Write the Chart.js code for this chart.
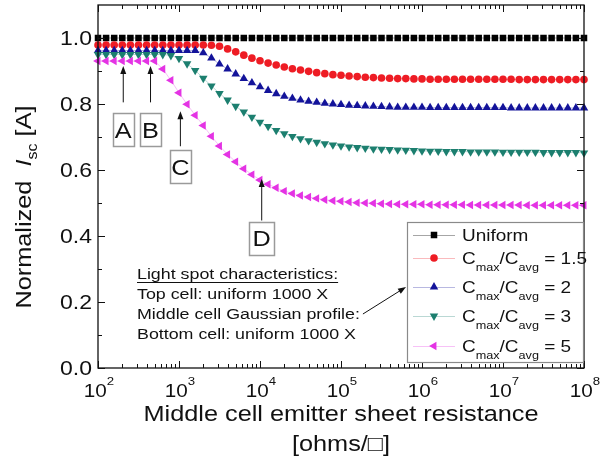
<!DOCTYPE html>
<html>
<head>
<meta charset="utf-8">
<script src="https://cdn.jsdelivr.net/npm/chart.js@4.4.1/dist/chart.umd.min.js"></script>
<style>
  html, body { margin: 0; padding: 0; background: #fff; }
</style>
</head>
<body>
<canvas id="isc" width="601" height="466"></canvas>
<script>
// middle cell emitter sheet resistance [ohms/sq], 10 points per decade
const sheetRes = [
  100, 125.9, 158.5, 199.5, 251.2, 316.2, 398.1, 501.2, 631.0, 794.3,
  1000, 1259, 1585, 1995, 2512, 3162, 3981, 5012, 6310, 7943,
  1e4, 1.259e4, 1.585e4, 1.995e4, 2.512e4, 3.162e4, 3.981e4, 5.012e4, 6.310e4, 7.943e4,
  1e5, 1.259e5, 1.585e5, 1.995e5, 2.512e5, 3.162e5, 3.981e5, 5.012e5, 6.310e5, 7.943e5,
  1e6, 1.259e6, 1.585e6, 1.995e6, 2.512e6, 3.162e6, 3.981e6, 5.012e6, 6.310e6, 7.943e6,
  1e7, 1.259e7, 1.585e7, 1.995e7, 2.512e7, 3.162e7, 3.981e7, 5.012e7, 6.310e7, 7.943e7,
  1e8
];

const uniform = [
  1, 1, 1, 1, 1, 1, 1, 1, 1, 1,
  1, 1, 1, 1, 1, 1, 1, 1, 1, 1,
  1, 1, 1, 1, 1, 1, 1, 1, 1, 1,
  1, 1, 1, 1, 1, 1, 1, 1, 1, 1,
  1, 1, 1, 1, 1, 1, 1, 1, 1, 1,
  1, 1, 1, 1, 1, 1, 1, 1, 1, 1,
  1
];
const ratio15 = [
  0.979, 0.979, 0.979, 0.979, 0.979, 0.979, 0.979, 0.979, 0.979, 0.979,
  0.979, 0.979, 0.979, 0.979, 0.978, 0.975, 0.967, 0.958, 0.948, 0.939,
  0.931, 0.924, 0.918, 0.912, 0.907, 0.903, 0.899, 0.895, 0.892, 0.889,
  0.887, 0.885, 0.883, 0.881, 0.880, 0.879, 0.878, 0.877, 0.877, 0.876,
  0.876, 0.875, 0.875, 0.875, 0.875, 0.875, 0.875, 0.875, 0.875, 0.875,
  0.875, 0.875, 0.874, 0.874, 0.874, 0.874, 0.874, 0.874, 0.874, 0.874,
  0.874
];
const ratio2 = [
  0.962, 0.962, 0.962, 0.962, 0.962, 0.962, 0.962, 0.962, 0.962, 0.962,
  0.962, 0.962, 0.962, 0.955, 0.939, 0.921, 0.906, 0.891, 0.877, 0.864,
  0.852, 0.841, 0.831, 0.823, 0.817, 0.812, 0.808, 0.805, 0.802, 0.800,
  0.798, 0.796, 0.795, 0.794, 0.793, 0.792, 0.791, 0.790, 0.790, 0.790,
  0.790, 0.789, 0.789, 0.789, 0.789, 0.789, 0.789, 0.789, 0.789, 0.789,
  0.789, 0.788, 0.788, 0.788, 0.788, 0.788, 0.788, 0.788, 0.788, 0.788,
  0.788
];
const ratio3 = [
  0.950, 0.950, 0.950, 0.950, 0.950, 0.950, 0.950, 0.950, 0.950, 0.947,
  0.938, 0.922, 0.902, 0.878, 0.855, 0.832, 0.812, 0.793, 0.776, 0.760,
  0.745, 0.732, 0.720, 0.710, 0.702, 0.695, 0.689, 0.684, 0.680, 0.676,
  0.673, 0.670, 0.668, 0.666, 0.664, 0.663, 0.662, 0.661, 0.660, 0.659,
  0.658, 0.657, 0.657, 0.656, 0.656, 0.656, 0.655, 0.655, 0.655, 0.655,
  0.654, 0.654, 0.654, 0.654, 0.654, 0.653, 0.653, 0.653, 0.653, 0.653,
  0.652
];
const ratio5 = [
  0.930, 0.930, 0.930, 0.930, 0.930, 0.930, 0.930, 0.930, 0.906, 0.872,
  0.834, 0.799, 0.766, 0.735, 0.702, 0.673, 0.647, 0.625, 0.604, 0.586,
  0.570, 0.557, 0.546, 0.536, 0.529, 0.523, 0.518, 0.514, 0.510, 0.507,
  0.505, 0.503, 0.501, 0.500, 0.499, 0.498, 0.497, 0.496, 0.496, 0.496,
  0.496, 0.495, 0.495, 0.495, 0.495, 0.495, 0.494, 0.494, 0.494, 0.494,
  0.494, 0.494, 0.494, 0.493, 0.493, 0.493, 0.493, 0.493, 0.493, 0.493,
  0.493
];

const ratioLabels = ['1.5', '2', '3', '5'];
const yTicks = [0, 0.2, 0.4, 0.6, 0.8, 1.0];
const yMinor = [0.1, 0.3, 0.5, 0.7, 0.9];
const xTickExp = [2, 3, 4, 5, 6, 7, 8];

// letters with arrows: resistance they point at, value at arrow tip
const callouts = [
  { label: 'A', x: 205, tip: 0.915, tail: 0.805, boxTop: 0.772 },
  { label: 'B', x: 445, tip: 0.915, tail: 0.805, boxTop: 0.772 },
  { label: 'C', x: 1040, tip: 0.778, tail: 0.672, boxTop: 0.660 },
  { label: 'D', x: 10500, tip: 0.573, tail: 0.447, boxTop: 0.443 }
];

const FONT = '"Liberation Sans", Arial, sans-serif';
const SX = 1.15; // source figure is a bit wide

const styles = [
  { name: 'Uniform', color: '#000000', line: 'rgba(0,0,0,0.35)', shape: 'rect', r: 4.6, rot: 0 },
  { color: '#ee1c24', line: 'rgba(238,28,36,0.3)', shape: 'circle', r: 3.8, rot: 0 },
  { color: '#13139a', line: 'rgba(19,19,154,0.3)', shape: 'triangle', r: 4.9, rot: 0 },
  { color: '#1c7f6f', line: 'rgba(28,127,111,0.3)', shape: 'triangle', r: 4.9, rot: 180 },
  { color: '#e433e4', line: 'rgba(228,51,228,0.3)', shape: 'triangle', r: 4.9, rot: 270 }
];
const seriesData = [uniform, ratio15, ratio2, ratio3, ratio5];

function runWidth(ctx, parts) {
  let w = 0;
  parts.forEach(p => {
    ctx.font = (p.italic ? 'italic ' : '') + p.size + 'px ' + FONT;
    w += ctx.measureText(p.t).width;
  });
  return w * SX;
}

function drawRun(ctx, parts, x, y, align) {
  const w = runWidth(ctx, parts);
  const x0 = align === 'center' ? x - w / 2 : align === 'right' ? x - w : x;
  ctx.save();
  ctx.translate(x0, y);
  ctx.scale(SX, 1);
  ctx.textBaseline = 'alphabetic';
  ctx.textAlign = 'left';
  ctx.fillStyle = '#111';
  let px = 0;
  parts.forEach(p => {
    ctx.font = (p.italic ? 'italic ' : '') + p.size + 'px ' + FONT;
    ctx.fillText(p.t, px, p.dy || 0);
    px += ctx.measureText(p.t).width;
  });
  ctx.restore();
  return w;
}

function marker(ctx, st, x, y) {
  ctx.save();
  ctx.fillStyle = st.color;
  ctx.beginPath();
  if (st.shape === 'rect') {
    const s = st.r * Math.SQRT1_2;
    ctx.rect(x - s, y - s, 2 * s, 2 * s);
  } else if (st.shape === 'circle') {
    ctx.arc(x, y, st.r, 0, Math.PI * 2);
  } else {
    let rad = st.rot * Math.PI / 180;
    for (let i = 0; i < 3; i++) {
      const px = x + Math.sin(rad) * st.r, py = y - Math.cos(rad) * st.r;
      if (i === 0) ctx.moveTo(px, py); else ctx.lineTo(px, py);
      rad += 2 * Math.PI / 3;
    }
    ctx.closePath();
  }
  ctx.fill();
  ctx.restore();
}

function arrow(ctx, x1, y1, x2, y2) {
  const ang = Math.atan2(y2 - y1, x2 - x1);
  const L = 8, W = 3;
  ctx.save();
  ctx.strokeStyle = '#111';
  ctx.fillStyle = '#111';
  ctx.lineWidth = 1;
  ctx.beginPath();
  ctx.moveTo(x1, y1);
  ctx.lineTo(x2 - Math.cos(ang) * L * 0.8, y2 - Math.sin(ang) * L * 0.8);
  ctx.stroke();
  ctx.beginPath();
  ctx.moveTo(x2, y2);
  ctx.lineTo(x2 - Math.cos(ang) * L - Math.sin(ang) * W, y2 - Math.sin(ang) * L + Math.cos(ang) * W);
  ctx.lineTo(x2 - Math.cos(ang) * L + Math.sin(ang) * W, y2 - Math.sin(ang) * L - Math.cos(ang) * W);
  ctx.closePath();
  ctx.fill();
  ctx.restore();
}

const deco = {
  id: 'deco',
  afterDatasetsDraw(chart) {
    const { ctx, chartArea: a, scales: { x, y } } = chart;
    ctx.save();

    // frame + inward ticks on all four sides
    ctx.strokeStyle = '#111';
    ctx.lineWidth = 1.3;
    ctx.strokeRect(a.left, a.top, a.right - a.left, a.bottom - a.top);
    ctx.lineWidth = 1;
    ctx.beginPath();
    const yt = (v, len) => {
      const py = Math.round(y.getPixelForValue(v)) + 0.5;
      ctx.moveTo(a.left, py); ctx.lineTo(a.left + len, py);
      ctx.moveTo(a.right, py); ctx.lineTo(a.right - len, py);
    };
    yTicks.forEach(v => yt(v, 7));
    yMinor.forEach(v => yt(v, 4));
    const xt = (v, len) => {
      const px = Math.round(x.getPixelForValue(v)) + 0.5;
      ctx.moveTo(px, a.bottom); ctx.lineTo(px, a.bottom - len);
      ctx.moveTo(px, a.top); ctx.lineTo(px, a.top + len);
    };
    xTickExp.forEach((e, i) => {
      xt(Math.pow(10, e), 7);
      if (i < xTickExp.length - 1) {
        for (let m = 2; m <= 9; m++) xt(m * Math.pow(10, e), 4);
      }
    });
    ctx.stroke();

    // tick labels
    yTicks.forEach(v => {
      drawRun(ctx, [{ t: v.toFixed(1), size: 20 }], a.left - 6, y.getPixelForValue(v) + 7, 'right');
    });
    xTickExp.forEach(e => {
      drawRun(ctx, [{ t: '10', size: 18 }, { t: String(e), size: 11.5, dy: -12 }],
        x.getPixelForValue(Math.pow(10, e)) + 1, 397, 'center');
    });

    // axis titles
    const cx = (a.left + a.right) / 2;
    drawRun(ctx, [{ t: 'Middle cell emitter sheet resistance', size: 22 }], cx, 421, 'center');
    drawRun(ctx, [{ t: '[ohms/\u25A1]', size: 22 }], cx, 451, 'center');

    ctx.save();
    ctx.translate(23, 207);
    ctx.rotate(-Math.PI / 2);
    drawRun(ctx, [
      { t: 'Normalized  ', size: 22 },
      { t: 'I', size: 22, italic: true },
      { t: 'sc', size: 14, dy: 6 },
      { t: ' [A]', size: 22 }
    ], 0, 8, 'center');
    ctx.restore();

    // callouts A-D
    callouts.forEach(c => {
      const px = x.getPixelForValue(c.x);
      arrow(ctx, px, y.getPixelForValue(c.tail), px, y.getPixelForValue(c.tip));
      const top = y.getPixelForValue(c.boxTop);
      const bw = c.label === 'D' ? 25 : 21, bh = 33;
      ctx.strokeStyle = '#9a9a9a';
      ctx.lineWidth = 1.5;
      ctx.strokeRect(Math.round(px - bw / 2) + 0.5, Math.round(top) + 0.5, bw, bh);
      drawRun(ctx, [{ t: c.label, size: 22 }], px, top + bh / 2 + 8, 'center');
    });

    // light spot note
    const nx = 137;
    const w0 = drawRun(ctx, [{ t: 'Light spot characteristics:', size: 15.5 }], nx, 279, 'left');
    ctx.strokeStyle = '#111';
    ctx.lineWidth = 1;
    ctx.beginPath();
    ctx.moveTo(nx, 282.5); ctx.lineTo(nx + w0, 282.5);
    ctx.stroke();
    drawRun(ctx, [{ t: 'Top cell: uniform 1000 X', size: 15.5 }], nx, 298.5, 'left');
    const w2 = drawRun(ctx, [{ t: 'Middle cell Gaussian profile:', size: 15.5 }], nx, 318.5, 'left');
    drawRun(ctx, [{ t: 'Bottom cell: uniform 1000 X', size: 15.5 }], nx, 339, 'left');
    arrow(ctx, nx + w2 + 3, 314, 406, 287);

    // legend
    const lg = { x: 407, y: 222, w: 176, h: 140 };
    ctx.fillStyle = '#fff';
    ctx.fillRect(lg.x, lg.y, lg.w, lg.h);
    ctx.strokeStyle = '#8a8a8a';
    ctx.lineWidth = 1.2;
    ctx.strokeRect(lg.x + 0.5, lg.y + 0.5, lg.w, lg.h);
    const rows = [235, 258, 287, 316, 346];
    styles.forEach((st, i) => {
      const ry = rows[i];
      ctx.strokeStyle = st.line;
      ctx.lineWidth = 1.2;
      ctx.beginPath();
      ctx.moveTo(413, ry + 0.5); ctx.lineTo(455, ry + 0.5);
      ctx.stroke();
      marker(ctx, st, 434, ry);
      if (i === 0) {
        drawRun(ctx, [{ t: st.name, size: 16.5 }], 462, ry + 6, 'left');
      } else {
        drawRun(ctx, [
          { t: 'C', size: 16.5 }, { t: 'max', size: 11, dy: 7 },
          { t: '/C', size: 16.5 }, { t: 'avg', size: 11, dy: 7 },
          { t: ' = ' + ratioLabels[i - 1], size: 16.5 }
        ], 462, ry + 6, 'left');
      }
    });

    ctx.restore();
  }
};

new Chart(document.getElementById('isc'), {
  type: 'line',
  data: {
    datasets: seriesData.map((vals, i) => ({
      label: i === 0 ? 'Uniform' : 'Cmax/Cavg = ' + ratioLabels[i - 1],
      data: sheetRes.map((r, k) => ({ x: r, y: vals[k] })),
      borderColor: styles[i].line,
      borderWidth: 1,
      backgroundColor: styles[i].color,
      pointBackgroundColor: styles[i].color,
      pointBorderColor: styles[i].color,
      pointBorderWidth: 0,
      pointStyle: styles[i].shape,
      pointRotation: styles[i].rot,
      pointRadius: styles[i].r,
      tension: 0,
      clip: false,
      order: 5 - i
    }))
  },
  options: {
    responsive: false,
    animation: false,
    devicePixelRatio: 1,
    layout: { padding: { left: 0, right: 17, top: 5, bottom: 0 } },
    plugins: { legend: { display: false }, tooltip: { enabled: false } },
    scales: {
      x: {
        type: 'logarithmic', min: 100, max: 1e8,
        grid: { display: false }, border: { display: false },
        ticks: { display: false },
        afterFit: s => { s.height = 98; }
      },
      y: {
        min: 0, max: 1.1,
        grid: { display: false }, border: { display: false },
        ticks: { display: false },
        afterFit: s => { s.width = 98; }
      }
    }
  },
  plugins: [deco]
});
</script>
</body>
</html>
